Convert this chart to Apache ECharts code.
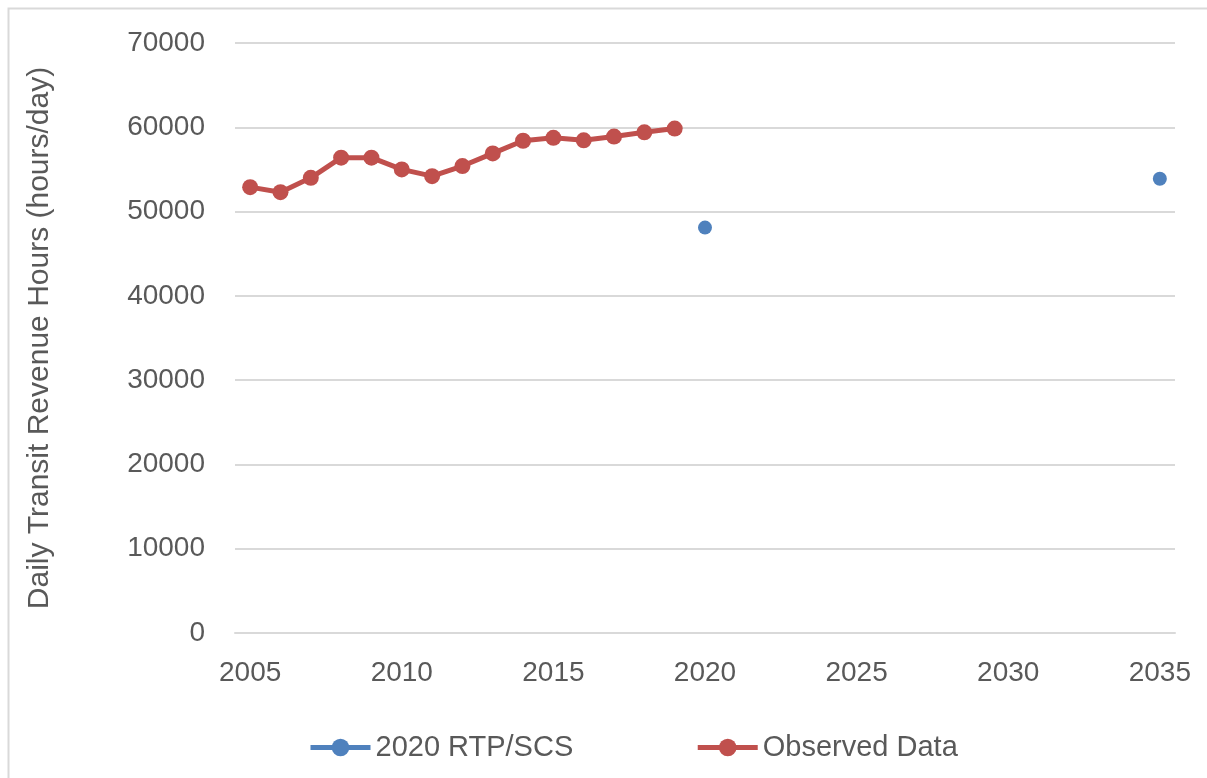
<!DOCTYPE html>
<html>
<head>
<meta charset="utf-8">
<script src="https://cdn.jsdelivr.net/npm/echarts@6/dist/echarts.min.js"></script>
<style>html,body{margin:0;padding:0;background:#fff;}#c{width:1207px;height:778px;}</style>
</head>
<body>
<div id="c"></div>
<script>
var years = [];
for (var y = 2005; y <= 2035; y++) years.push(String(y));
var observedYears = ['2005','2006','2007','2008','2009','2010','2011','2012','2013','2014','2015','2016','2017','2018','2019'];
var observedValues = [52900, 52300, 54000, 56400, 56400, 55000, 54200, 55400, 56900, 58400, 58750, 58450, 58900, 59400, 59850];
var rtpYears = ['2020', '2035'];
var rtpValues = [48100, 53900];
var yTicks = [0, 10000, 20000, 30000, 40000, 50000, 60000, 70000];

function alignTo(cats, keys, vals) {
  return cats.map(function (c) { var i = keys.indexOf(c); return i >= 0 ? vals[i] : null; });
}

var chart = echarts.init(document.getElementById('c'), null, {renderer: 'canvas'});
var font = 'Liberation Sans';
chart.setOption({
  animation: false,
  backgroundColor: '#ffffff',
  graphic: [{
    type: 'rect', left: 6, top: 6, silent: true,
    shape: {x: 0, y: 0, width: 1260, height: 900},
    style: {fill: 'none', stroke: '#d9d9d9', lineWidth: 2}
  }],
  grid: {left: 235, right: 32, top: 43, bottom: 145},
  legend: {
    left: 303, top: 728,
    itemWidth: 60, itemHeight: 22, itemGap: 122,
    lineStyle: {width: 5},
    textStyle: {fontFamily: font, fontSize: 29, color: '#595959'},
    data: ['2020 RTP/SCS', 'Observed Data']
  },
  xAxis: {
    type: 'category', data: years, boundaryGap: true,
    axisLine: {show: true, lineStyle: {color: '#d9d9d9', width: 2}},
    axisTick: {show: false},
    axisLabel: {interval: 4, margin: 26, fontFamily: font, fontSize: 28, color: '#595959'}
  },
  yAxis: {
    type: 'value', min: yTicks[0], max: yTicks[yTicks.length - 1], interval: 10000,
    name: 'Daily Transit Revenue Hours (hours/day)', nameLocation: 'middle', nameGap: 180,
    nameTextStyle: {fontFamily: font, fontSize: 30, color: '#595959'},
    axisLine: {show: false}, axisTick: {show: false},
    axisLabel: {margin: 30, fontFamily: font, fontSize: 28, color: '#595959',
      formatter: function (v) { return String(v); }},
    splitLine: {lineStyle: {color: '#d9d9d9', width: 2}}
  },
  series: [{
    name: '2020 RTP/SCS', type: 'line', data: alignTo(years, rtpYears, rtpValues),
    connectNulls: false, symbol: 'circle', symbolSize: 14,
    itemStyle: {color: '#4F81BD'}, lineStyle: {color: '#4F81BD', width: 5}
  }, {
    name: 'Observed Data', type: 'line', data: alignTo(years, observedYears, observedValues),
    symbol: 'circle', symbolSize: 16,
    itemStyle: {color: '#C0504D'}, lineStyle: {color: '#C0504D', width: 5}
  }]
});
</script>
</body>
</html>
